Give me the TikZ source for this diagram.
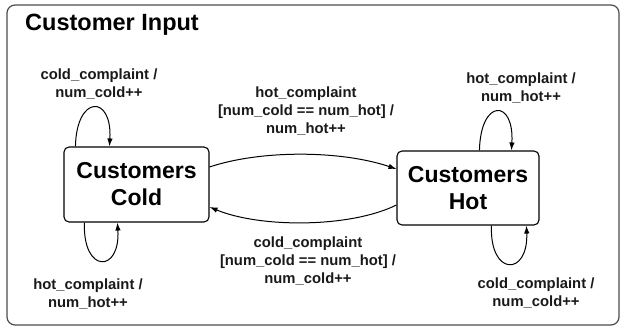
\documentclass[tikz,border=0pt]{standalone}
\usepackage{fontspec}
\setmainfont{Liberation Sans}
\usetikzlibrary{arrows.meta}
\begin{document}
\begin{tikzpicture}[x=1pt,y=-1pt,
  statebox/.style={draw=black,line width=1.1pt,rounded corners=5pt,font=\fontsize{23}{27}\selectfont\bfseries,align=center,inner sep=0pt},
  lbl/.style={font=\fontsize{14.8}{18}\selectfont\bfseries,align=center,inner sep=0pt,text=black!90},
  arr/.style={draw=black,line width=1pt,-{Latex[length=8pt,width=5.5pt]}}]
\useasboundingbox (0,0) rectangle (623,328);
\draw[draw=black!70,line width=1.2pt,rounded corners=8pt] (7,5) rectangle (619,325);
\node[anchor=west,font=\fontsize{23.5}{27}\selectfont\bfseries,inner sep=0pt] (title) at (25,24.5) {Customer Input};
\node[statebox,minimum width=145pt,minimum height=75pt] (cold) at (136.5,184.5) {Customers\\Cold};
\node[statebox,minimum width=142pt,minimum height=74pt] (hot) at (468,188) {Customers\\Hot};
% self loops
\draw[arr] ([xshift=12pt]cold.north west) .. controls +(1,-52) and +(3,-52) .. ([xshift=46pt]cold.north west);
\draw[arr] ([xshift=21pt]cold.south west) .. controls +(-2,51) and +(3,51) .. ([xshift=54pt]cold.south west);
\draw[arr] ([xshift=83pt]hot.north west) .. controls +(1,-52) and +(3,-52) .. ([xshift=115pt]hot.north west);
\draw[arr] ([xshift=95pt]hot.south west) .. controls +(-2,51) and +(2,51) .. ([xshift=130pt]hot.south west);
% transitions
\draw[arr] ([yshift=17.5pt]cold.east) .. controls (260,150) and (340,150) .. ([yshift=19pt]hot.west);
\draw[arr] ([yshift=-17pt]hot.west) .. controls (350,228) and (260,228) .. ([yshift=-22.5pt]cold.east);
% labels
\node[lbl] (l1) at (99,84) {cold\_complaint /\\num\_cold++};
\node[lbl] (l2) at (88,294) {hot\_complaint /\\num\_hot++};
\node[lbl] (l3) at (521,88) {hot\_complaint /\\num\_hot++};
\node[lbl] (l4) at (536,293) {cold\_complaint /\\num\_cold++};
\node[lbl] (l5) at (306,111.5) {hot\_complaint\\{}[num\_cold == num\_hot] /\\num\_hot++};
\node[lbl] (l6) at (308,261) {cold\_complaint\\{}[num\_cold == num\_hot] /\\num\_cold++};
\end{tikzpicture}
\end{document}
